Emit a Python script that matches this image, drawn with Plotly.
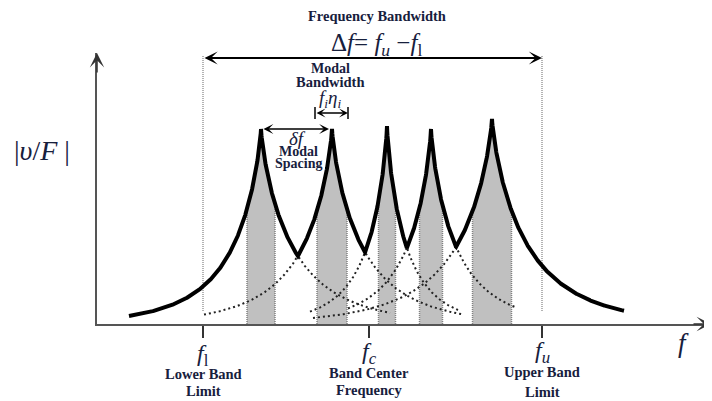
import numpy as np
import plotly.graph_objects as go

# ---------------- data (diagram units: 1 unit = 1 px, origin at axis corner) ----
mode_freq = [164, 235, 290, 334, 395]          # modal frequencies f_i
mode_amp = [195, 195, 198, 195, 205]           # peak |v/F|
mode_decay_left = [31, 32, 21.5, 26, 37]       # fall-off scale below f_i
mode_decay_right = [34.5, 33, 21, 27.5, 37.5]  # fall-off scale above f_i
decay_power = 0.8
modal_bandwidth = [28, 30, 17, 23, 39]         # f_i * eta_i (shaded bands)
dotted_left_start = [None, 107, 213, 251, 216]
dotted_right_end = [293, 366, 363, 420, None]
envelope_range = [32, 527]
f_lower, f_center, f_upper = 106, 272, 445
tick_vals = [f_lower, f_center, f_upper]

X_MAX, Y_MAX = 615, 271
SERIF = "Liberation Serif, Times New Roman, serif"
TXT = "#17203d"


def mode_resp(i, x):
    x = np.asarray(x, dtype=float)
    d = x - mode_freq[i]
    s = np.where(d < 0, mode_decay_left[i], mode_decay_right[i])
    return mode_amp[i] * np.exp(-(np.abs(d) / s) ** decay_power)


def grid(a, b, n=600):
    g = np.linspace(a, b, n)
    extra = [f for f in mode_freq if a <= f <= b]
    return np.unique(np.concatenate([g, extra]))


def envelope(x):
    return np.max([mode_resp(i, x) for i in range(len(mode_freq))], axis=0)


fig = go.Figure()

# shaded modal bandwidths
for i, f in enumerate(mode_freq):
    a, b = f - modal_bandwidth[i] / 2, f + modal_bandwidth[i] / 2
    xs = grid(a, b, 120)
    fig.add_trace(go.Scatter(x=xs, y=envelope(xs), fill="tozeroy", mode="lines",
                             line=dict(width=0), fillcolor="#c0c0c0",
                             hoverinfo="skip", showlegend=False))
    for e in (a, b):
        fig.add_trace(go.Scatter(x=[e, e], y=[0, float(envelope([e])[0])], mode="lines",
                                 line=dict(color="#808080", width=1.5, dash="1px,1px"),
                                 hoverinfo="skip", showlegend=False))

# dotted individual mode curves
for i, f in enumerate(mode_freq):
    if dotted_left_start[i] is not None:
        xs = grid(dotted_left_start[i], f, 300)
        fig.add_trace(go.Scatter(x=xs, y=mode_resp(i, xs), mode="lines",
                                 line=dict(color="#222", width=2, dash="2px,3px"),
                                 hoverinfo="skip", showlegend=False))
    if dotted_right_end[i] is not None:
        xs = grid(f, dotted_right_end[i], 300)
        fig.add_trace(go.Scatter(x=xs, y=mode_resp(i, xs), mode="lines",
                                 line=dict(color="#222", width=2, dash="2px,3px"),
                                 hoverinfo="skip", showlegend=False))

# band limit dotted lines
for fv in (f_lower, f_upper):
    fig.add_trace(go.Scatter(x=[fv, fv], y=[13, 269], mode="lines",
                             line=dict(color="#9a9a9a", width=1.5, dash="1px,1px"),
                             hoverinfo="skip", showlegend=False))

# envelope
xs = grid(*envelope_range, 2000)
fig.add_trace(go.Scatter(x=xs, y=envelope(xs), mode="lines",
                         line=dict(color="black", width=4),
                         hoverinfo="skip", showlegend=False))

ann = []


def text(x, y, t, size=14, bold=False):
    if bold:
        t = "<b>" + t + "</b>"
    ann.append(dict(x=x / X_MAX, y=y / Y_MAX, text=t, showarrow=False,
                    xref="paper", yref="paper",
                    font=dict(family=SERIF, size=size, color=TXT),
                    xanchor="center", yanchor="middle"))


def arrow(x0, y0, x1, y1, width=2, size=1.0, side="end", head=3, color="black"):
    ann.append(dict(x=x1, y=y1, ax=x0, ay=y0, xref="x", yref="y", axref="x", ayref="y",
                    text="", showarrow=True, arrowhead=head, startarrowhead=head,
                    arrowside=side, arrowwidth=width, arrowsize=size, arrowcolor=color,
                    standoff=0, startstandoff=0))


# axis arrowheads
arrow(0, 250, 0, 271, width=1.5, size=1.6, color="#333")
arrow(595, 0, 614, 0, width=1.5, size=1.6, color="#333")

# frequency bandwidth arrow
arrow(f_lower, 266, f_upper, 266, width=2, size=1.1, side="end+start")
text(280, 308, "Frequency Bandwidth", 14.5, bold=True)
text(279, 280, "Δ<i>f</i>= <i>f<sub>u</sub></i> −<i>f</i><sub>l</sub>", 25)

# modal bandwidth arrow
mb_a = mode_freq[1] - modal_bandwidth[1] / 2 - 2
mb_b = mode_freq[1] + modal_bandwidth[1] / 2 + 1
arrow(mb_a, 211, mb_b, 211, width=1.5, size=1.0, side="end+start")
text(233, 256, "Modal", 14, bold=True)
text(233, 242, "Bandwidth", 14.5, bold=True)
text(233, 225, "<i>f<sub>i</sub>η<sub>i</sub></i>", 19)

# modal spacing arrow
arrow(mode_freq[0] + 1, 195, mode_freq[1] - 3, 195, width=1.5, size=1.1, side="end+start")
text(200, 186, "<i>δf</i>", 19)
text(201, 173, "Modal", 14, bold=True)
text(201, 161, "Spacing", 14, bold=True)

# axis titles
text(-55, 174, "|<i>υ</i>/<i>F</i> |", 28)
text(586, -19, "<i>f</i>", 27)

# tick labels
text(f_lower, -31, "<i>f</i><sub>l</sub>", 24)
text(f_lower, -50, "Lower Band", 14.5, bold=True)
text(f_lower, -67, "Limit", 14.5, bold=True)
text(f_center, -29, "<i>f<sub>c</sub></i>", 24)
text(f_center, -49, "Band Center", 14.5, bold=True)
text(f_center, -66, "Frequency", 14.5, bold=True)
text(f_upper, -28, "<i>f<sub>u</sub></i>", 24)
text(f_upper, -48, "Upper Band", 14.5, bold=True)
text(f_upper, -68, "Limit", 14.5, bold=True)

shapes = []
for xv in (mb_a, mb_b):
    shapes.append(dict(type="line", xref="x", yref="y", x0=xv, x1=xv, y0=205, y1=217,
                       line=dict(color="black", width=1.5)))

# page body has an 8px margin -> figure is 704x393 so it ends at the window edge
fig.update_layout(
    width=704, height=393,
    margin=dict(l=89, r=0, t=45, b=77),
    paper_bgcolor="white", plot_bgcolor="white",
    annotations=ann, shapes=shapes,
    xaxis=dict(range=[0, X_MAX], showgrid=False, zeroline=False, showline=True,
               linecolor="#555", linewidth=1.5, tickvals=tick_vals, ticks="outside",
               ticklen=12, tickwidth=1.5, tickcolor="#333", showticklabels=False),
    yaxis=dict(range=[0, Y_MAX], showgrid=False, zeroline=False, showline=True,
               linecolor="#555", linewidth=1.5, showticklabels=False, ticks=""),
)

fig.write_html("out.html")
